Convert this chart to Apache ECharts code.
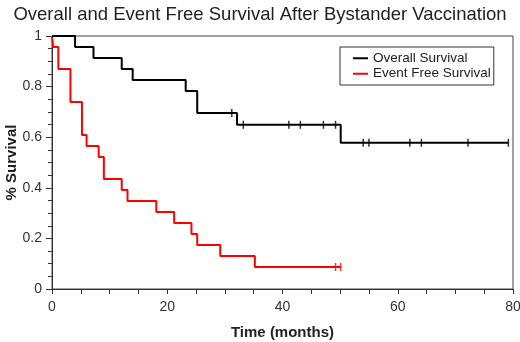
<!DOCTYPE html>
<html>
<head>
<meta charset="utf-8">
<script src="https://cdn.jsdelivr.net/npm/echarts@6.0.0/dist/echarts.min.js"></script>
<style>
  html, body { margin: 0; padding: 0; background: #fff; }
  #chart { width: 520px; height: 342px; }
</style>
</head>
<body>
<div id="chart"></div>
<script>
// Kaplan-Meier steps (months, survival fraction)
const osTime = [0, 4.0, 7.2, 12.1, 14.0, 23.2, 25.2, 32.1, 50.1, 79.2];
const osSurv = [1, 0.957, 0.913, 0.870, 0.826, 0.783, 0.696, 0.649, 0.578, 0.578];
const osCensorTime = [31.2, 33.2, 41.1, 43.1, 47.1, 49.2, 54.0, 55.0, 62.1, 64.1, 72.2, 79.2];
const osCensorSurv = [0.696, 0.649, 0.649, 0.649, 0.649, 0.649, 0.578, 0.578, 0.578, 0.578, 0.578, 0.578];

const efsTime = [0, 0.2, 1.1, 3.2, 5.2, 6.0, 8.1, 9.0, 12.1, 13.1, 18.1, 21.2, 24.2, 25.2, 29.2, 35.2, 50.1];
const efsSurv = [1, 0.957, 0.870, 0.739, 0.609, 0.565, 0.522, 0.435, 0.391, 0.348, 0.304, 0.261, 0.217, 0.174, 0.130, 0.087, 0.087];
const efsCensorTime = [49.2, 50.1];
const efsCensorSurv = [0.087, 0.087];

const xTicks = [0, 20, 40, 60, 80];
const yTicks = [0, 0.2, 0.4, 0.6, 0.8, 1];

const pairs = (xs, ys) => xs.map((x, i) => [x, ys[i]]);

const chart = echarts.init(document.getElementById('chart'), null, {renderer: 'canvas'});
const font = '"Liberation Sans", Arial, sans-serif';
const axisColor = '#333';

const option = {
  animation: false,
  title: {
    text: 'Overall and Event Free Survival After Bystander Vaccination',
    left: 'center',
    top: 0,
    textStyle: {
      fontFamily: font,
      fontSize: 18.5,
      fontWeight: 'normal',
      color: '#222',
    },
  },
  grid: {
    left: 52,
    right: 7,
    top: 36,
    bottom: 53,
    outerBoundsMode: 'none',
    containLabel: false,
    show: true,
    borderColor: '#444',
    borderWidth: 1,
  },
  legend: {
    data: ['Overall Survival', 'Event Free Survival'],
    orient: 'vertical',
    left: 340,
    top: 47,
    padding: [4, 3, 4, 13],
    itemGap: 1,
    itemWidth: 15,
    itemHeight: 2,
    icon: 'rect',
    borderColor: '#333',
    borderWidth: 1,
    textStyle: {
      fontFamily: font,
      fontSize: 13.5,
      color: '#222',
      lineHeight: 14.5,
    },
  },
  xAxis: {
    type: 'value',
    min: xTicks[0],
    max: xTicks[xTicks.length - 1],
    interval: 20,
    name: 'Time (months)',
    nameLocation: 'middle',
    nameGap: 36,
    nameMoveOverlap: false,
    nameTextStyle: {fontFamily: font, fontSize: 15, fontWeight: 'bold', color: '#222'},
    axisLine: {lineStyle: {color: axisColor, width: 1}},
    axisTick: {length: 5, lineStyle: {color: axisColor}},
    minorTick: {show: true, splitNumber: 4, length: 5, lineStyle: {color: axisColor}},
    axisLabel: {fontFamily: font, fontSize: 14, color: '#333', margin: 11},
    splitLine: {show: false},
  },
  yAxis: {
    type: 'value',
    min: yTicks[0],
    max: yTicks[yTicks.length - 1],
    interval: 0.2,
    name: '% Survival',
    nameLocation: 'middle',
    nameGap: 33,
    nameMoveOverlap: false,
    nameTextStyle: {fontFamily: font, fontSize: 15, fontWeight: 'bold', color: '#222'},
    axisLine: {show: true, lineStyle: {color: axisColor, width: 1}},
    axisTick: {show: true, length: 6, lineStyle: {color: axisColor}},
    minorTick: {show: true, splitNumber: 4, length: 4, lineStyle: {color: axisColor}},
    axisLabel: {fontFamily: font, fontSize: 14, color: '#333', margin: 10},
    splitLine: {show: false},
  },
  series: [
    {
      name: 'Overall Survival',
      type: 'line',
      step: 'end',
      showSymbol: false,
      color: '#000',
      lineStyle: {color: '#000', width: 2},
      data: pairs(osTime, osSurv),
      z: 3,
    },
    {
      name: 'Event Free Survival',
      type: 'line',
      step: 'end',
      showSymbol: false,
      color: '#f00',
      lineStyle: {color: '#f00', width: 2},
      data: pairs(efsTime, efsSurv),
      z: 2,
    },
    {
      name: 'OS censored',
      type: 'scatter',
      symbol: 'rect',
      symbolSize: [1.5, 8],
      itemStyle: {color: '#000'},
      data: pairs(osCensorTime, osCensorSurv),
      z: 4,
    },
    {
      name: 'EFS censored',
      type: 'scatter',
      symbol: 'rect',
      symbolSize: [1.5, 8],
      itemStyle: {color: '#f00'},
      data: pairs(efsCensorTime, efsCensorSurv),
      z: 4,
    },
  ],
};

chart.setOption(option, true);
</script>
</body>
</html>
